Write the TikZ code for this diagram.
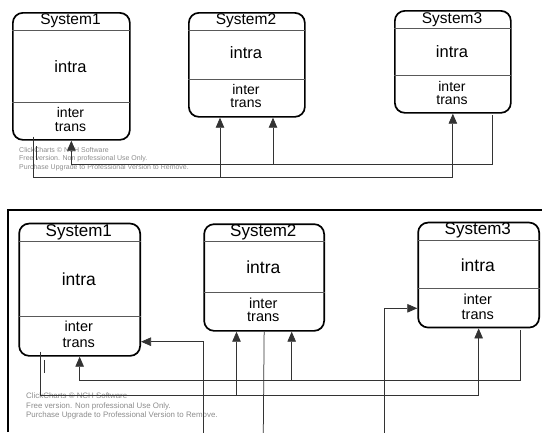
\documentclass[tikz,border=0pt]{standalone}
\usepackage{fontspec}
\setmainfont{Liberation Sans}
\usetikzlibrary{arrows.meta}

\begin{document}
\begin{tikzpicture}[x=1pt,y=-1pt,
    sysbox/.style={draw,line width=1.7pt,rounded corners=10pt,inner sep=0pt,anchor=north west},
    sepline/.style={draw=black!65,line width=0.7pt},
    txt/.style={font=\fontsize{#1}{#1}\selectfont,inner sep=0pt},
    link/.style={draw=black!80,line width=0.75pt},
    arr/.style={link,-{Triangle[length=10pt,width=8.5pt]}},
    frame/.style={draw,line width=2.2pt},
    mark note/.style={text=black!45,font=\fontsize{7}{8.4}\selectfont,align=left,anchor=north west,inner sep=0pt}]

    \useasboundingbox (0,0) rectangle (542,432);

    % Upper chart: boxes
    \node[sysbox,minimum width=117pt,minimum height=127pt] (s1) at (12,12) {};
    \node[sysbox,minimum width=116pt,minimum height=104pt] (s2) at (188,12) {};
    \node[sysbox,minimum width=116pt,minimum height=102pt] (s3) at (394,10) {};
    \draw[sepline] (s1.west |- 0,30) -- (s1.east |- 0,30);
    \draw[sepline] (s1.west |- 0,102.5) -- (s1.east |- 0,102.5);
    \draw[sepline] (s2.west |- 0,30) -- (s2.east |- 0,30);
    \draw[sepline] (s2.west |- 0,79) -- (s2.east |- 0,79);
    \draw[sepline] (s3.west |- 0,28.3) -- (s3.east |- 0,28.3);
    \draw[sepline] (s3.west |- 0,75) -- (s3.east |- 0,75);

    \node[txt=15.5] (s1t) at (70.5,21) {System1};
    \node[txt=16.5] (s1a) at (70.5,66.5) {intra};
    \node[txt=14] (s1b) at (70.5,112) {inter};
    \node[txt=14] (s1c) at (70.5,127) {trans};
    \node[txt=15.5] (s2t) at (246,21) {System2};
    \node[txt=16.5] (s2a) at (246,53) {intra};
    \node[txt=14] (s2b) at (246,89) {inter};
    \node[txt=14] (s2c) at (246,103) {trans};
    \node[txt=15.5] (s3t) at (452,19.5) {System3};
    \node[txt=16.5] (s3a) at (452,52) {intra};
    \node[txt=14] (s3b) at (452,86) {inter};
    \node[txt=14] (s3c) at (452,100) {trans};

    \node[mark note] (wm1) at (19,147) {ClickCharts © NCH Software\\Free version. Non professional Use Only.\\Purchase Upgrade to Professional Version to Remove.};

    % Upper chart: edges
    \coordinate (ta0) at (33,136.5);
    \coordinate (ta1) at (33,177.5);
    \coordinate (ta2) at (220,177.5);
    \coordinate (tb0) at (492,115);
    \coordinate (tb1) at (492,164);
    \coordinate (tb2) at (273,164);
    \coordinate (tc0) at (36,146);
    \coordinate (tc1) at (36,160);
    \draw[arr] (ta0) -- (ta1) -| (s3.south);
    \draw[arr] (ta2) -- (ta2 |- s2.south);
    \draw[arr] (tb0) -- (tb1) -| (s1.south);
    \draw[arr] (tb2) -- (tb2 |- s2.south);
    \draw[link] (tc0) -- (tc1);

    % Lower chart: frame and boxes
    \draw[frame] (8,432) -- (8,210) -- (543,210);
    \node[sysbox,minimum width=121pt,minimum height=132.3pt] (b1) at (18.3,222.7) {};
    \node[sysbox,minimum width=120pt,minimum height=106.7pt] (b2) at (203.3,223.3) {};
    \node[sysbox,minimum width=121pt,minimum height=105pt] (b3) at (417.3,221.7) {};
    \draw[sepline] (b1.west |- 0,241.7) -- (b1.east |- 0,241.7);
    \draw[sepline] (b1.west |- 0,316.7) -- (b1.east |- 0,316.7);
    \draw[sepline] (b2.west |- 0,241.7) -- (b2.east |- 0,241.7);
    \draw[sepline] (b2.west |- 0,292.3) -- (b2.east |- 0,292.3);
    \draw[sepline] (b3.west |- 0,240) -- (b3.east |- 0,240);
    \draw[sepline] (b3.west |- 0,288.3) -- (b3.east |- 0,288.3);

    \node[txt=17] (b1t) at (78.8,232) {System1};
    \node[txt=17.5] (b1a) at (78.8,279) {intra};
    \node[txt=14.5] (b1b) at (78.8,326.7) {inter};
    \node[txt=14.5] (b1c) at (78.8,343) {trans};
    \node[txt=17] (b2t) at (263.3,232) {System2};
    \node[txt=17.5] (b2a) at (263.3,267.3) {intra};
    \node[txt=14.5] (b2b) at (263.3,303) {inter};
    \node[txt=14.5] (b2c) at (263.3,316.7) {trans};
    \node[txt=17] (b3t) at (477.8,230.5) {System3};
    \node[txt=17.5] (b3a) at (477.8,265) {intra};
    \node[txt=14.5] (b3b) at (477.8,299.3) {inter};
    \node[txt=14.5] (b3c) at (477.8,315) {trans};

    \node[mark note,font=\fontsize{7.9}{9.4}\selectfont] (wm2) at (26,393) {ClickCharts © NCH Software\\Free version. Non professional Use Only.\\Purchase Upgrade to Professional Version to Remove.};

    % Lower chart: edges
    \coordinate (bc0) at (203,433);
    \coordinate (bc1) at (203,341.7);
    \coordinate (bd0) at (520,330);
    \coordinate (bd1) at (520,380.5);
    \coordinate (bd2) at (291.7,380.5);
    \coordinate (be0) at (40.7,351.7);
    \coordinate (be1) at (40.7,395.5);
    \coordinate (be2) at (236.5,395.5);
    \coordinate (bf0) at (263.3,433);
    \coordinate (bg0) at (384,433);
    \coordinate (bg1) at (384,308.3);
    \coordinate (bh0) at (44.3,360);
    \coordinate (bh1) at (44.3,373);
    \draw[arr] (bc0) -- (bc1) -- (bc1 -| b1.east);
    \draw[arr] (bd0) -- (bd1) -| (b1.south);
    \draw[arr] (bd2) -- (bd2 |- b2.south);
    \draw[arr] (be0) -- (be1) -| (b3.south);
    \draw[arr] (be2) -- (be2 |- b2.south);
    \draw[link] (b2.south) -- (bf0);
    \draw[arr] (bg0) -- (bg1) -- (bg1 -| b3.west);
    \draw[link] (bh0) -- (bh1);

\end{tikzpicture}
\end{document}
